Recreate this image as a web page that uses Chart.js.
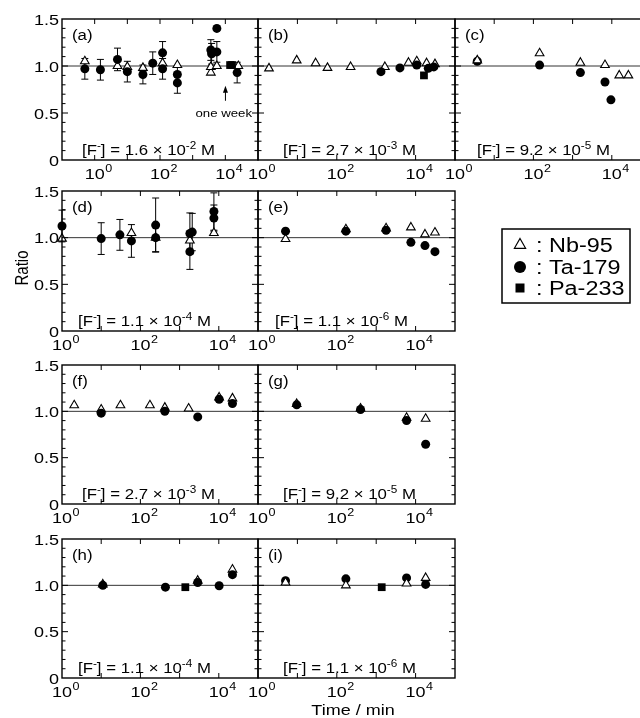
<!DOCTYPE html>
<html>
<head>
<meta charset="utf-8">
<script src="https://cdn.jsdelivr.net/npm/chart.js@4.4.0/dist/chart.umd.min.js"></script>
<style>
  html, body { margin: 0; padding: 0; background: #fff; overflow: hidden; }
  #wrap { position: relative; width: 640px; height: 718px; overflow: hidden; }
  #wrap canvas { position: absolute; }
</style>
</head>
<body>
<div id="wrap"></div>
<script>
// ---- data (time in min, ratio) ----
const aNbX = [0.5, 5, 10, 30, 120, 340, 3600, 3600, 5500, 25000];
const aNbY = [1.05, 1.0, 0.99, 0.98, 1.03, 1.01, 0.93, 0.99, 1.0, 1.0];
const aTaX = [0.5, 1.5, 5, 10, 30, 60, 120, 120, 340, 340, 3600, 3800, 5500, 5500, 23000];
const aTaY = [0.97, 0.96, 1.07, 0.94, 0.91, 1.03, 1.14, 0.97, 0.91, 0.82, 1.17, 1.13, 1.40, 1.15, 0.93];
const aTaErr = [0.11, 0.11, 0.12, 0.11, 0.10, 0.12, 0.12, 0.11, 0.09, 0.11, 0.11, 0.11, 0, 0.11, 0.11];
const aPaX = [14000, 16000];
const aPaY = [1.01, 1.01];

const bNbX = [1.9, 9.6, 29, 58, 224, 1660, 6600, 10700, 19000, 31000];
const bNbY = [0.975, 1.06, 1.03, 0.98, 0.99, 0.99, 1.035, 1.05, 1.03, 1.02];
const bTaX = [1320, 4000, 10700, 21000, 29000];
const bTaY = [0.94, 0.98, 1.01, 0.975, 0.99];
const bPaX = [16300];
const bPaY = [0.90];

const cNbX = [3.7, 144, 1580, 6700, 15500, 26500];
const cNbY = [1.06, 1.135, 1.035, 1.01, 0.90, 0.90];
const cTaX = [3.7, 144, 1580, 6700, 9500];
const cTaY = [1.05, 1.01, 0.93, 0.83, 0.64];

const dNbX = [1.0, 59, 245, 1830, 7500];
const dNbY = [0.99, 1.05, 1.0, 0.97, 1.05];
const dTaX = [1.0, 10, 30, 59, 245, 245, 1830, 1830, 2100, 7500, 7500];
const dTaY = [1.125, 0.99, 1.03, 0.965, 1.135, 1.0, 1.045, 0.85, 1.06, 1.28, 1.21];
const dTaErr = [0.17, 0.17, 0.165, 0.175, 0.29, 0.15, 0.22, 0.19, 0.2, 0.2, 0.14];

const eNbX = [5, 170, 1780, 7600, 17300, 31000];
const eNbY = [0.985, 1.09, 1.10, 1.11, 1.035, 1.055];
const eTaX = [5, 170, 1780, 7600, 17300, 31000];
const eTaY = [1.07, 1.07, 1.08, 0.95, 0.915, 0.85];

const fNbX = [2.05, 10, 31, 175, 420, 1700, 10200, 22300];
const fNbY = [1.065, 1.02, 1.065, 1.065, 1.04, 1.03, 1.15, 1.14];
const fTaX = [10, 420, 2900, 10200, 22300];
const fTaY = [0.98, 1.0, 0.94, 1.13, 1.085];

const gNbX = [9.6, 400, 5900, 18000];
const gNbY = [1.08, 1.03, 0.93, 0.92];
const gTaX = [9.6, 400, 5900, 18000];
const gTaY = [1.07, 1.02, 0.90, 0.645];

const hNbX = [11, 2900, 22300];
const hNbY = [1.01, 1.05, 1.17];
const hTaX = [11, 435, 2900, 10200, 22300];
const hTaY = [1.0, 0.98, 1.03, 0.995, 1.115];
const hPaX = [1400];
const hPaY = [0.98];

const iNbX = [5, 170, 5900, 18000];
const iNbY = [1.03, 1.0, 1.02, 1.08];
const iTaX = [5, 170, 5900, 18000];
const iTaY = [1.05, 1.07, 1.08, 1.01];
const iPaX = [1380];
const iPaY = [0.98];

const concBase = ['1.6', '2.7', '9.2', '1.1', '1.1', '2.7', '9.2', '1.1', '1.1'];
const concExp = ['-2', '-3', '-5', '-4', '-6', '-3', '-5', '-4', '-6'];

const yTickValues = [0, 0.5, 1, 1.5];
const yTickLabels = ['0', '0.5', '1.0', '1.5'];
const xLabelExps = [0, 2, 4];
const weekMin = 10080;
const legendLabels = [': Nb-95', ': Ta-179', ': Pa-233'];

// ---- layout ----
const FONT = '"Liberation Sans", Arial, Helvetica, sans-serif';
const SX = 1.2; // lettering in the figure is a bit wider than normal
const colLeft = [62, 258, 455];
const colWidth = [196, 197, 196];
const rowTop = [19, 191, 365, 539];
const rowHeight = [141, 140, 139, 139];

const panels = [
  { id: 'a', col: 0, row: 0, xmin: 0.1, txt: 20, nb: [aNbX, aNbY], ta: [aTaX, aTaY, aTaErr], pa: [aPaX, aPaY] },
  { id: 'b', col: 1, row: 0, xmin: 1, txt: 25, nb: [bNbX, bNbY], ta: [bTaX, bTaY], pa: [bPaX, bPaY] },
  { id: 'c', col: 2, row: 0, xmin: 1, txt: 22, nb: [cNbX, cNbY], ta: [cTaX, cTaY], triTop: true },
  { id: 'd', col: 0, row: 1, xmin: 1, txt: 16, nb: [dNbX, dNbY], ta: [dTaX, dTaY, dTaErr] },
  { id: 'e', col: 1, row: 1, xmin: 1, txt: 17, nb: [eNbX, eNbY], ta: [eTaX, eTaY] },
  { id: 'f', col: 0, row: 2, xmin: 1, txt: 20, nb: [fNbX, fNbY], ta: [fTaX, fTaY] },
  { id: 'g', col: 1, row: 2, xmin: 1, txt: 25, nb: [gNbX, gNbY], ta: [gTaX, gTaY] },
  { id: 'h', col: 0, row: 3, xmin: 1, txt: 16, nb: [hNbX, hNbY], ta: [hTaX, hTaY], pa: [hPaX, hPaY] },
  { id: 'i', col: 1, row: 3, xmin: 1, txt: 25, nb: [iNbX, iNbY], ta: [iTaX, iTaY], pa: [iPaX, iPaY], triTop: true },
];

function pts(xs, ys) {
  return xs.map((x, i) => ({ x: x, y: ys[i] }));
}

function drawText(ctx, str, x, y, size, align, sx) {
  ctx.save();
  ctx.font = size + 'px ' + FONT;
  ctx.textAlign = align || 'left';
  ctx.translate(x, y);
  ctx.scale(sx || SX, 1);
  ctx.fillText(str, 0, 0);
  ctx.restore();
}

function textW(ctx, str, size, sx) {
  ctx.font = size + 'px ' + FONT;
  return ctx.measureText(str).width * (sx || SX);
}

// parts: [text, isSuperscript]
function drawRich(ctx, parts, x, y, size, sx) {
  let cx = x;
  parts.forEach(([s, sup]) => {
    const sz = sup ? size * 0.7 : size;
    drawText(ctx, s, cx, sup ? y - size * 0.42 : y, sz, 'left', sx);
    cx += textW(ctx, s, sz, sx);
  });
}

function drawLegend(ctx) {
  ctx.lineWidth = 1.5;
  ctx.strokeRect(502, 229, 128, 74);
  const ys = [245, 267, 288];
  const gx = 520;
  // triangle
  ctx.lineWidth = 1.2;
  ctx.beginPath();
  ctx.moveTo(gx, ys[0] - 6.5);
  ctx.lineTo(gx + 5.6, ys[0] + 3.3);
  ctx.lineTo(gx - 5.6, ys[0] + 3.3);
  ctx.closePath();
  ctx.stroke();
  ctx.beginPath();
  ctx.arc(gx, ys[1], 6, 0, Math.PI * 2);
  ctx.fill();
  ctx.fillRect(gx - 4.5, ys[2] - 4.5, 9, 9);
  legendLabels.forEach((s, k) => drawText(ctx, s, 536, ys[k] + 7, 19.5));
}

function makePlugin(p, ox, oy, k) {
  return {
    id: 'frame' + p.id,
    beforeDatasetsDraw(chart) {
      const { ctx, chartArea: a } = chart;
      const x = chart.scales.x, y = chart.scales.y;
      ctx.save();
      ctx.strokeStyle = '#333';
      ctx.lineWidth = 1;
      const y1 = y.getPixelForValue(1);
      ctx.beginPath();
      ctx.moveTo(a.left, y1);
      ctx.lineTo(a.right, y1);
      ctx.stroke();
      // error bars
      ctx.strokeStyle = '#000';
      chart.data.datasets.forEach(ds => {
        if (!ds.errs) return;
        ctx.beginPath();
        ds.data.forEach((d, i) => {
          const e = ds.errs[i];
          if (!e) return;
          const px = x.getPixelForValue(d.x);
          const t = y.getPixelForValue(d.y + e), b = y.getPixelForValue(d.y - e);
          ctx.moveTo(px, t); ctx.lineTo(px, b);
          ctx.moveTo(px - 3.5, t); ctx.lineTo(px + 3.5, t);
          ctx.moveTo(px - 3.5, b); ctx.lineTo(px + 3.5, b);
        });
        ctx.stroke();
      });
      ctx.restore();
    },
    afterDraw(chart) {
      const { ctx, chartArea: a } = chart;
      const x = chart.scales.x, y = chart.scales.y;
      ctx.save();
      ctx.strokeStyle = '#000';
      ctx.fillStyle = '#000';
      ctx.lineWidth = 1.4;
      ctx.strokeRect(a.left, a.top, a.right - a.left, a.bottom - a.top);
      ctx.lineWidth = 1;
      ctx.beginPath();
      for (let t = 1; t < 15; t++) {
        const py = y.getPixelForValue(t / 10);
        const len = t % 5 === 0 ? 6 : 3.5;
        ctx.moveTo(a.left, py); ctx.lineTo(a.left + len, py);
        ctx.moveTo(a.right, py); ctx.lineTo(a.right - len, py);
      }
      for (let e = Math.round(Math.log10(p.xmin)); e <= 5; e++) {
        const px = x.getPixelForValue(Math.pow(10, e));
        if (px <= a.left + 1 || px >= a.right - 1) continue;
        ctx.moveTo(px, a.top); ctx.lineTo(px, a.top + 5);
        ctx.moveTo(px, a.bottom); ctx.lineTo(px, a.bottom - 5);
      }
      ctx.stroke();

      // x tick labels: "10" centred on the tick, exponent to the right
      xLabelExps.forEach(e => {
        const px = x.getPixelForValue(Math.pow(10, e));
        const by = a.bottom + 18.5;
        drawText(ctx, '10', px, by, 15, 'center');
        drawText(ctx, String(e), px + textW(ctx, '10', 15) / 2 + 0.5, by - 6.5, 10.5);
      });
      if (p.col === 0) {
        yTickValues.forEach((v, i) => {
          drawText(ctx, yTickLabels[i], a.left - 3, y.getPixelForValue(v) + 5.5, 15, 'right');
        });
      }
      drawText(ctx, '(' + p.id + ')', a.left + 10, a.top + 21, 14);
      drawRich(ctx, [['[F'], ['-', true], ['] = ' + concBase[k] + ' \u00d7 10'], [concExp[k], true], [' M']],
        a.left + p.txt, a.bottom - 5, 15, 1.12);

      if (p.id === 'a') {
        const ax = x.getPixelForValue(weekMin);
        const tip = y.getPixelForValue(0.79), tail = y.getPixelForValue(0.63);
        ctx.beginPath();
        ctx.moveTo(ax, tail); ctx.lineTo(ax, tip + 5);
        ctx.stroke();
        ctx.beginPath();
        ctx.moveTo(ax, tip); ctx.lineTo(ax - 2.5, tip + 7); ctx.lineTo(ax + 2.5, tip + 7);
        ctx.closePath();
        ctx.fill();
        drawText(ctx, 'one week', a.right - 6, y.getPixelForValue(0.5) + 4, 11, 'right');
      }
      // figure-wide items, in page coordinates
      ctx.translate(-ox, -oy);
      if (p.id === 'd') {
        ctx.save();
        ctx.translate(23, 268);
        ctx.scale(SX, 1);
        ctx.rotate(-Math.PI / 2);
        ctx.font = '15px ' + FONT;
        ctx.textAlign = 'center';
        ctx.textBaseline = 'middle';
        ctx.fillText('Ratio', 0, 0);
        ctx.restore();
      }
      if (p.id === 'e') drawLegend(ctx);
      if (p.id === 'i') drawText(ctx, 'Time / min', 353, 715, 15, 'center');
      ctx.restore();
    }
  };
}

function makeDatasets(p) {
  const ds = [];
  const top = !!p.triTop;
  ds.push({
    label: 'Nb-95', data: pts(p.nb[0], p.nb[1]),
    pointStyle: 'triangle', pointRadius: 5, pointHoverRadius: 5,
    backgroundColor: '#fff', borderColor: '#000', borderWidth: 1.1,
    order: top ? 0 : 2, clip: false
  });
  ds.push({
    label: 'Ta-179', data: pts(p.ta[0], p.ta[1]), errs: p.ta[2],
    pointStyle: 'circle', pointRadius: 4.5, pointHoverRadius: 4.5,
    backgroundColor: '#000', borderColor: '#000', borderWidth: 0,
    order: top ? 1 : 0, clip: false
  });
  if (p.pa) {
    ds.push({
      label: 'Pa-233', data: pts(p.pa[0], p.pa[1]),
      pointStyle: 'rect', pointRadius: 5.5, pointHoverRadius: 5.5,
      backgroundColor: '#000', borderColor: '#000', borderWidth: 0,
      order: 1, clip: false
    });
  }
  return ds;
}

const wrap = document.getElementById('wrap');
panels.forEach((p, k) => {
  const padL = p.col === 0 ? 62 : 14;
  const padR = p.id === 'e' ? 190 : 14;
  const padT = 10;
  const padB = p.row === 3 ? 40 : 30;
  const w = colWidth[p.col], h = rowHeight[p.row];
  const ox = colLeft[p.col] - padL, oy = rowTop[p.row] - padT;
  const canvas = document.createElement('canvas');
  canvas.width = padL + w + padR;
  canvas.height = padT + h + padB;
  canvas.style.left = ox + 'px';
  canvas.style.top = oy + 'px';
  wrap.appendChild(canvas);

  new Chart(canvas.getContext('2d'), {
    type: 'scatter',
    data: { datasets: makeDatasets(p) },
    options: {
      responsive: false,
      animation: false,
      events: [],
      layout: { padding: { left: padL, right: padR, top: padT, bottom: padB } },
      scales: {
        x: { type: 'logarithmic', min: p.xmin, max: 1e5, display: false },
        y: { type: 'linear', min: 0, max: 1.5, display: false },
      },
      plugins: {
        legend: { display: false },
        tooltip: { enabled: false },
      },
    },
    plugins: [makePlugin(p, ox, oy, k)],
  });
});
</script>
</body>
</html>
